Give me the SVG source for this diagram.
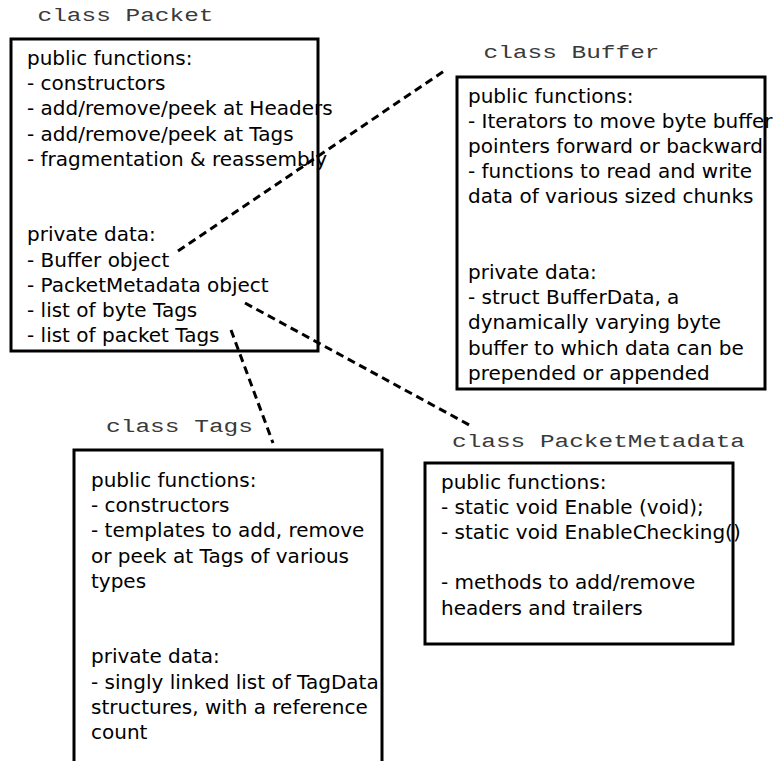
<svg xmlns="http://www.w3.org/2000/svg" width="776" height="761" viewBox="0 0 776 761">
  <style>
    .box { fill: #fff; stroke: #000; stroke-width: 3; }
    .title { font-family: "Liberation Mono", "DejaVu Sans Mono", monospace; font-size: 18px; fill: #3a3a3a; }
    .body { font-family: "DejaVu Sans", "Liberation Sans", sans-serif; font-size: 20px; fill: #000; }
    .link { fill: none; stroke: #000; stroke-width: 3; stroke-dasharray: 8 5; }
  </style>
  <rect width="776" height="761" fill="#fff"/>

  <!-- class Packet -->
  <g id="packet">
    <text class="title" x="37.5" y="21" textLength="176" lengthAdjust="spacingAndGlyphs">class Packet</text>
    <rect class="box" x="11" y="39" width="307" height="312"/>
    <text class="body" x="27">
      <tspan x="27" y="65">public functions:</tspan>
      <tspan x="27" y="90.2">- constructors</tspan>
      <tspan x="27" y="115.4">- add/remove/peek at Headers</tspan>
      <tspan x="27" y="140.6">- add/remove/peek at Tags</tspan>
      <tspan x="27" y="165.8">- fragmentation &amp; reassembly</tspan>
      <tspan x="27" y="241.4">private data:</tspan>
      <tspan x="27" y="266.6">- Buffer object</tspan>
      <tspan x="27" y="291.8">- PacketMetadata object</tspan>
      <tspan x="27" y="317">- list of byte Tags</tspan>
      <tspan x="27" y="342.2">- list of packet Tags</tspan>
    </text>
  </g>

  <!-- class Buffer -->
  <g id="buffer">
    <text class="title" x="483.5" y="58" textLength="176" lengthAdjust="spacingAndGlyphs">class Buffer</text>
    <rect class="box" x="457" y="77" width="308" height="312"/>
    <text class="body">
      <tspan x="468" y="102.5">public functions:</tspan>
      <tspan x="468" y="127.7">- Iterators to move byte buffer</tspan>
      <tspan x="468" y="152.9">pointers forward or backward</tspan>
      <tspan x="468" y="178.1">- functions to read and write</tspan>
      <tspan x="468" y="203.3">data of various sized chunks</tspan>
      <tspan x="468" y="278.9">private data:</tspan>
      <tspan x="468" y="304.1">- struct BufferData, a</tspan>
      <tspan x="468" y="329.3">dynamically varying byte</tspan>
      <tspan x="468" y="354.5">buffer to which data can be</tspan>
      <tspan x="468" y="379.7">prepended or appended</tspan>
    </text>
  </g>

  <!-- class Tags -->
  <g id="tags">
    <text class="title" x="106" y="431.5" textLength="147" lengthAdjust="spacingAndGlyphs">class Tags</text>
    <rect class="box" x="74" y="450" width="308" height="330"/>
    <text class="body">
      <tspan x="91" y="487">public functions:</tspan>
      <tspan x="91" y="512.2">- constructors</tspan>
      <tspan x="91" y="537.4">- templates to add, remove</tspan>
      <tspan x="91" y="562.6">or peek at Tags of various</tspan>
      <tspan x="91" y="587.8">types</tspan>
      <tspan x="91" y="663.4">private data:</tspan>
      <tspan x="91" y="688.6">- singly linked list of TagData</tspan>
      <tspan x="91" y="713.8">structures, with a reference</tspan>
      <tspan x="91" y="739">count</tspan>
    </text>
  </g>

  <!-- class PacketMetadata -->
  <g id="packet-metadata">
    <text class="title" x="452" y="446.5" textLength="293" lengthAdjust="spacingAndGlyphs">class PacketMetadata</text>
    <rect class="box" x="425" y="463" width="308" height="181"/>
    <text class="body">
      <tspan x="441" y="488.5">public functions:</tspan>
      <tspan x="441" y="513.7">- static void Enable (void);</tspan>
      <tspan x="441" y="538.9">- static void EnableChecking()</tspan>
      <tspan x="441" y="589.3">- methods to add/remove</tspan>
      <tspan x="441" y="614.5">headers and trailers</tspan>
    </text>
  </g>

  <!-- dashed associations between members and classes -->
  <g id="connectors">
    <line class="link" x1="178" y1="251" x2="447" y2="69"/>
    <line class="link" x1="245" y1="303" x2="473" y2="427"/>
    <line class="link" x1="231" y1="330" x2="273" y2="443"/>
  </g>
</svg>
